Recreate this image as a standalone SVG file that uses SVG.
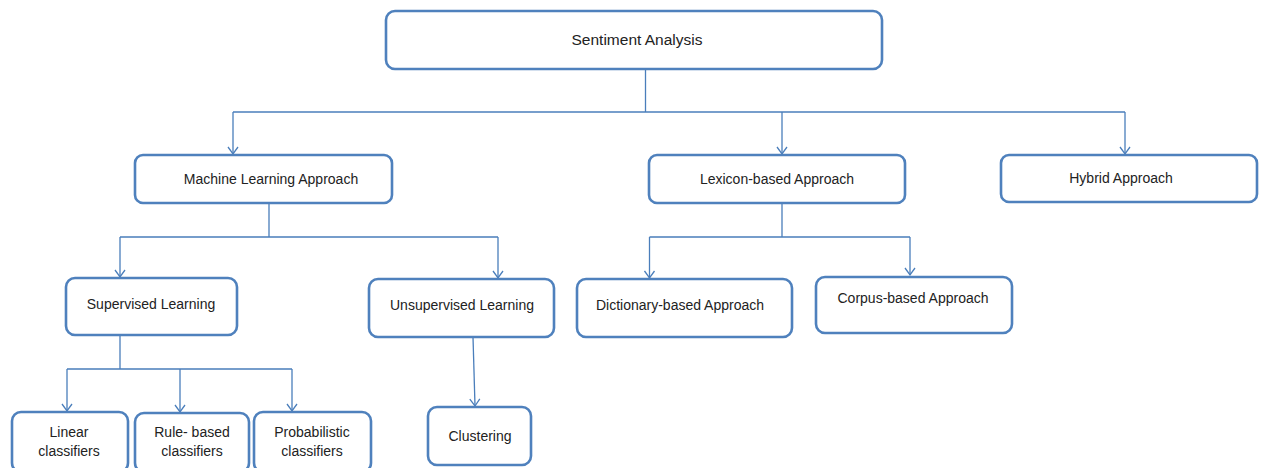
<svg xmlns="http://www.w3.org/2000/svg" width="1262" height="468" viewBox="0 0 1262 468">
<style>
.box{fill:#fff;stroke:#4f81bd;stroke-width:2.6}
.t{font-family:"Liberation Sans",Arial,sans-serif;font-size:14px;fill:#222;text-anchor:middle}
.c{fill:none;stroke:#4a7ebb;stroke-width:1.3}
</style>
<defs>
<marker id="a" markerWidth="12" markerHeight="12" refX="10" refY="6" orient="auto" markerUnits="userSpaceOnUse" viewBox="0 0 12 12">
<path d="M3,1 L10,6 L3,11" fill="none" stroke="#4a7ebb" stroke-width="1.3"/>
</marker>
</defs>
<rect width="1262" height="468" fill="#fff"/>
<g id="connectors">
<path class="c" d="M645.5,69 V112"/>
<path class="c" d="M233,112 H1125"/>
<path class="c" d="M233,112 V154" marker-end="url(#a)"/>
<path class="c" d="M782,112 V154" marker-end="url(#a)"/>
<path class="c" d="M1125,112 V154" marker-end="url(#a)"/>
<path class="c" d="M269,203 V237 M120,237 H498"/>
<path class="c" d="M120,237 V277" marker-end="url(#a)"/>
<path class="c" d="M498,237 V278" marker-end="url(#a)"/>
<path class="c" d="M782,203 V237 M649.5,237 H910"/>
<path class="c" d="M649.5,237 V278" marker-end="url(#a)"/>
<path class="c" d="M910,237 V275" marker-end="url(#a)"/>
<path class="c" d="M120,335 V369 M67,369 H292"/>
<path class="c" d="M67,369 V411" marker-end="url(#a)"/>
<path class="c" d="M180,369 V412" marker-end="url(#a)"/>
<path class="c" d="M292,369 V411" marker-end="url(#a)"/>
<path class="c" d="M473,337 L475,406" marker-end="url(#a)"/>
</g>
<g id="sentiment"><rect class="box" x="386" y="11" width="496" height="58" rx="9"/><text class="t" x="637" y="45" style="font-size:15.5px">Sentiment Analysis</text></g>
<g id="ml"><rect class="box" x="135" y="155" width="257" height="48" rx="8"/><text class="t" x="271" y="184">Machine Learning Approach</text></g>
<g id="lexicon"><rect class="box" x="649" y="155" width="256" height="48" rx="8"/><text class="t" x="777" y="184">Lexicon-based Approach</text></g>
<g id="hybrid"><rect class="box" x="1001" y="155" width="256" height="47" rx="8"/><text class="t" x="1121" y="183">Hybrid Approach</text></g>
<g id="supervised"><rect class="box" x="66" y="278" width="171" height="57" rx="9"/><text class="t" x="151" y="309">Supervised Learning</text></g>
<g id="unsupervised"><rect class="box" x="369" y="279" width="185" height="58" rx="9"/><text class="t" x="462" y="310">Unsupervised Learning</text></g>
<g id="dictionary"><rect class="box" x="577" y="279" width="215" height="58" rx="9"/><text class="t" x="680" y="310">Dictionary-based Approach</text></g>
<g id="corpus"><rect class="box" x="816" y="277" width="196" height="56" rx="9"/><text class="t" x="913" y="303">Corpus-based Approach</text></g>
<g id="linear"><rect class="box" x="12" y="412" width="116" height="60" rx="9"/><text class="t" x="69" y="437">Linear</text><text class="t" x="69" y="456">classifiers</text></g>
<g id="rule"><rect class="box" x="135" y="413" width="114" height="59" rx="9"/><text class="t" x="192" y="437">Rule- based</text><text class="t" x="192" y="456">classifiers</text></g>
<g id="prob"><rect class="box" x="254" y="412" width="117" height="60" rx="9"/><text class="t" x="312" y="437">Probabilistic</text><text class="t" x="312" y="456">classifiers</text></g>
<g id="clustering"><rect class="box" x="428" y="407" width="103" height="58" rx="9"/><text class="t" x="480" y="441">Clustering</text></g>
</svg>
